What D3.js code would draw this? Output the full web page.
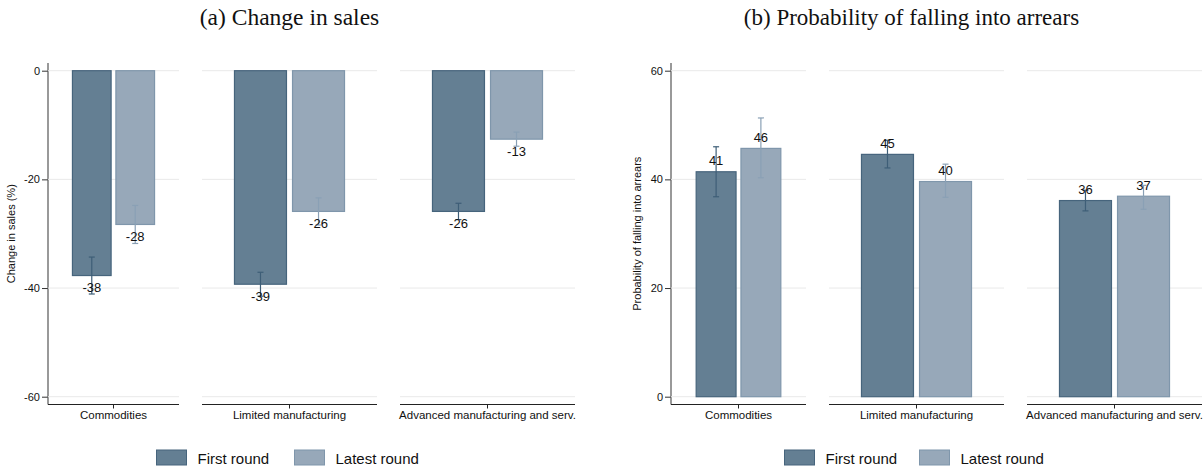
<!DOCTYPE html>
<html>
<head>
<meta charset="utf-8">
<script src="https://cdn.jsdelivr.net/npm/d3@7"></script>
<style>
  html, body { margin: 0; padding: 0; background: #fff; }
  svg { display: block; }
</style>
</head>
<body>
<svg id="chart" width="1203" height="467"></svg>
<script>
// ---------- DATA ----------
const categories = ["Commodities", "Limited manufacturing", "Advanced manufacturing and serv."];
const seriesNames = ["First round", "Latest round"];

// Panel (a): change in sales (%)
const salesFirst  = [-37.7, -39.3, -25.9];
const salesLatest = [-28.3, -25.9, -12.6];
const salesFirstLo  = [-41.1, -41.5, -27.4];
const salesFirstHi  = [-34.3, -37.1, -24.4];
const salesLatestLo = [-31.8, -28.4, -13.9];
const salesLatestHi = [-24.8, -23.4, -11.3];
const salesTicks = [0, -20, -40, -60];

// Panel (b): probability of falling into arrears
const arrearsFirst  = [41.4, 44.6, 36.1];
const arrearsLatest = [45.7, 39.6, 36.9];
const arrearsFirstLo  = [36.8, 42.1, 34.2];
const arrearsFirstHi  = [46.0, 47.2, 38.0];
const arrearsLatestLo = [40.3, 36.7, 34.5];
const arrearsLatestHi = [51.3, 42.8, 38.9];
const arrearsTicks = [0, 20, 40, 60];

// ---------- STYLE ----------
const fills   = ["#647f93", "#97a8b9"];
const strokes = ["#46647c", "#7f96ab"];
const errCols = ["#3e5e77", "#8aa0b5"];
const sansFont = "'Liberation Sans', Arial, sans-serif";
const serifFont = "'Liberation Serif', 'DejaVu Serif', serif";
const fmt = v => String(Math.round(v)); // plain hyphen-minus, as in the original

const svg = d3.select("#chart");

function drawPanel(cfg) {
  const g = svg.append("g");
  const y = d3.scaleLinear().domain(cfg.domain).range([396.7, 70.7]);

  // title
  g.append("text")
    .attr("x", cfg.titleX).attr("y", 25)
    .attr("text-anchor", "middle")
    .attr("font-family", serifFont)
    .attr("font-size", cfg.titleSize)
    .attr("fill", "#111")
    .text(cfg.title);

  // y axis title
  g.append("text")
    .attr("transform", `translate(${cfg.yTitleX},233.7) rotate(-90)`)
    .attr("text-anchor", "middle")
    .attr("font-family", sansFont)
    .attr("font-size", 11)
    .attr("fill", "#111")
    .text(cfg.yTitle);

  // y axis
  const yAxis = d3.axisLeft(y).tickValues(cfg.ticks).tickSize(6).tickPadding(2).tickFormat(fmt);
  const ya = g.append("g").attr("transform", `translate(${cfg.axisX},0)`).call(yAxis);
  ya.select(".domain").remove();
  ya.selectAll(".tick line").attr("stroke", "#333");
  ya.selectAll(".tick text").attr("font-family", sansFont).attr("font-size", 11).attr("fill", "#111");
  g.append("line")
    .attr("x1", cfg.axisX).attr("x2", cfg.axisX)
    .attr("y1", 63).attr("y2", 404.5)
    .attr("stroke", "#555").attr("stroke-width", 1.2);

  categories.forEach((cat, i) => {
    const [x0, x1] = cfg.subpanels[i];
    // gridlines
    g.selectAll(null).data(cfg.ticks).enter().append("line")
      .attr("x1", x0).attr("x2", x1)
      .attr("y1", d => y(d)).attr("y2", d => y(d))
      .attr("stroke", "#e9e9e9").attr("stroke-width", 1);

    const xb = d3.scaleBand().domain(seriesNames).range([x0, x1])
      .paddingInner(0.087).paddingOuter(0.551);

    const vals = [cfg.first[i], cfg.latest[i]];
    const los = [cfg.firstLo[i], cfg.latestLo[i]];
    const his = [cfg.firstHi[i], cfg.latestHi[i]];

    // bars
    seriesNames.forEach((s, k) => {
      const v = vals[k];
      g.append("rect")
        .attr("x", xb(s) + 0.5)
        .attr("width", xb.bandwidth() - 1)
        .attr("y", Math.min(y(0), y(v)))
        .attr("height", Math.abs(y(v) - y(0)))
        .attr("fill", fills[k])
        .attr("stroke", strokes[k])
        .attr("stroke-width", 1.2);
    });
    // error bars
    seriesNames.forEach((s, k) => {
      const cx = xb(s) + xb.bandwidth() / 2;
      const eg = g.append("g").attr("stroke", errCols[k]).attr("stroke-width", 1.2);
      eg.append("line").attr("x1", cx).attr("x2", cx).attr("y1", y(los[k])).attr("y2", y(his[k]));
      [los[k], his[k]].forEach(e => {
        eg.append("line").attr("x1", cx - 3).attr("x2", cx + 3).attr("y1", y(e)).attr("y2", y(e));
      });
    });
    // value labels
    seriesNames.forEach((s, k) => {
      const cx = xb(s) + xb.bandwidth() / 2;
      const v = vals[k];
      const yy = v < 0 ? y(v) + 16.5 : y(v) - 6.5;
      g.append("text")
        .attr("x", cx).attr("y", yy)
        .attr("text-anchor", "middle")
        .attr("font-family", sansFont)
        .attr("font-size", 13)
        .attr("fill", "#111")
        .text(fmt(v));
    });

    // x axis line + tick + label
    g.append("line").attr("x1", x0).attr("x2", x1).attr("y1", 404.5).attr("y2", 404.5)
      .attr("stroke", "#222").attr("stroke-width", 1);
    const cxm = (x0 + x1) / 2;
    g.append("line").attr("x1", cxm).attr("x2", cxm).attr("y1", 404.5).attr("y2", 408.5)
      .attr("stroke", "#222").attr("stroke-width", 1);
    g.append("text")
      .attr("x", cxm).attr("y", 419)
      .attr("text-anchor", "middle")
      .attr("font-family", sansFont)
      .attr("font-size", 11.5)
      .attr("fill", "#111")
      .text(cat);
  });

  // legend
  const lg = g.append("g");
  seriesNames.forEach((s, k) => {
    const lx = cfg.legendX[k];
    lg.append("rect").attr("x", lx).attr("y", 450).attr("width", 30).attr("height", 15)
      .attr("fill", fills[k]).attr("stroke", strokes[k]).attr("stroke-width", 1);
    lg.append("text").attr("x", lx + 41).attr("y", 463.5)
      .attr("font-family", sansFont).attr("font-size", 15).attr("fill", "#111")
      .text(s);
  });
}

drawPanel({
  title: "(a) Change in sales",
  titleX: 289.5, titleSize: 23.5,
  yTitle: "Change in sales (%)", yTitleX: 15,
  domain: [-60, 0], ticks: salesTicks,
  axisX: 48,
  subpanels: [[48, 179], [202, 377], [400, 575]],
  first: salesFirst, latest: salesLatest,
  firstLo: salesFirstLo, firstHi: salesFirstHi,
  latestLo: salesLatestLo, latestHi: salesLatestHi,
  legendX: [156.5, 294.5]
});

drawPanel({
  title: "(b) Probability of falling into arrears",
  titleX: 911.5, titleSize: 23,
  yTitle: "Probability of falling into arrears", yTitleX: 641,
  domain: [0, 60], ticks: arrearsTicks,
  axisX: 671,
  subpanels: [[671, 806], [829, 1004], [1027, 1202]],
  first: arrearsFirst, latest: arrearsLatest,
  firstLo: arrearsFirstLo, firstHi: arrearsFirstHi,
  latestLo: arrearsLatestLo, latestHi: arrearsLatestHi,
  legendX: [784.5, 919.5]
});
</script>
</body>
</html>
